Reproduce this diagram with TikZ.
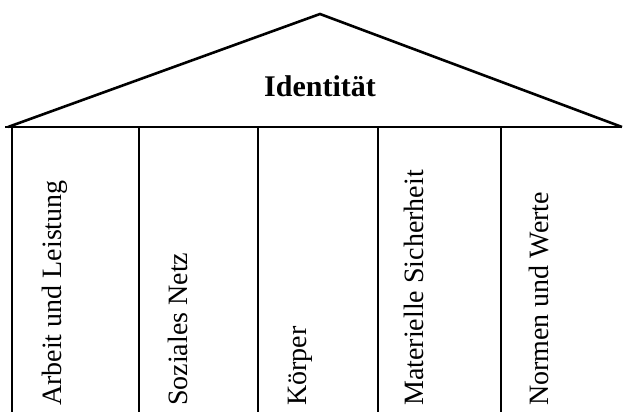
\documentclass[tikz,border=0pt]{standalone}
\usepackage{fontspec}
\setmainfont{Liberation Serif}
\begin{document}
\begin{tikzpicture}[x=1pt,y=-1pt,
  edge/.style={line width=2.6pt, line join=miter},
  col/.style={rotate=90, anchor=base west, inner sep=0pt, font=\fontsize{28}{33}\selectfont},
  title/.style={inner sep=0pt, anchor=base, font=\fontsize{30}{34}\selectfont\bfseries}]
\useasboundingbox (0,0) rectangle (624,412);
\coordinate (apex) at (320,14);
\coordinate (rl) at (8,127);
\coordinate (rr) at (622,127);
\draw[edge] (rl) -- (apex) -- (rr);
\draw[edge] (5,127) -- (rr);
\foreach \x in {12,139,258,378,501} \draw[edge] (\x,127) -- (\x,413);
\node[title] (id) at (320,96) {Identität};
\node[col] (c1) at (61,406) {Arbeit und Leistung};
\node[col] (c2) at (187,406) {Soziales Netz};
\node[col] (c3) at (306,406) {Körper};
\node[col] (c4) at (423,406) {Materielle Sicherheit};
\node[col] (c5) at (548,406) {Normen und Werte};
\end{tikzpicture}
\end{document}
